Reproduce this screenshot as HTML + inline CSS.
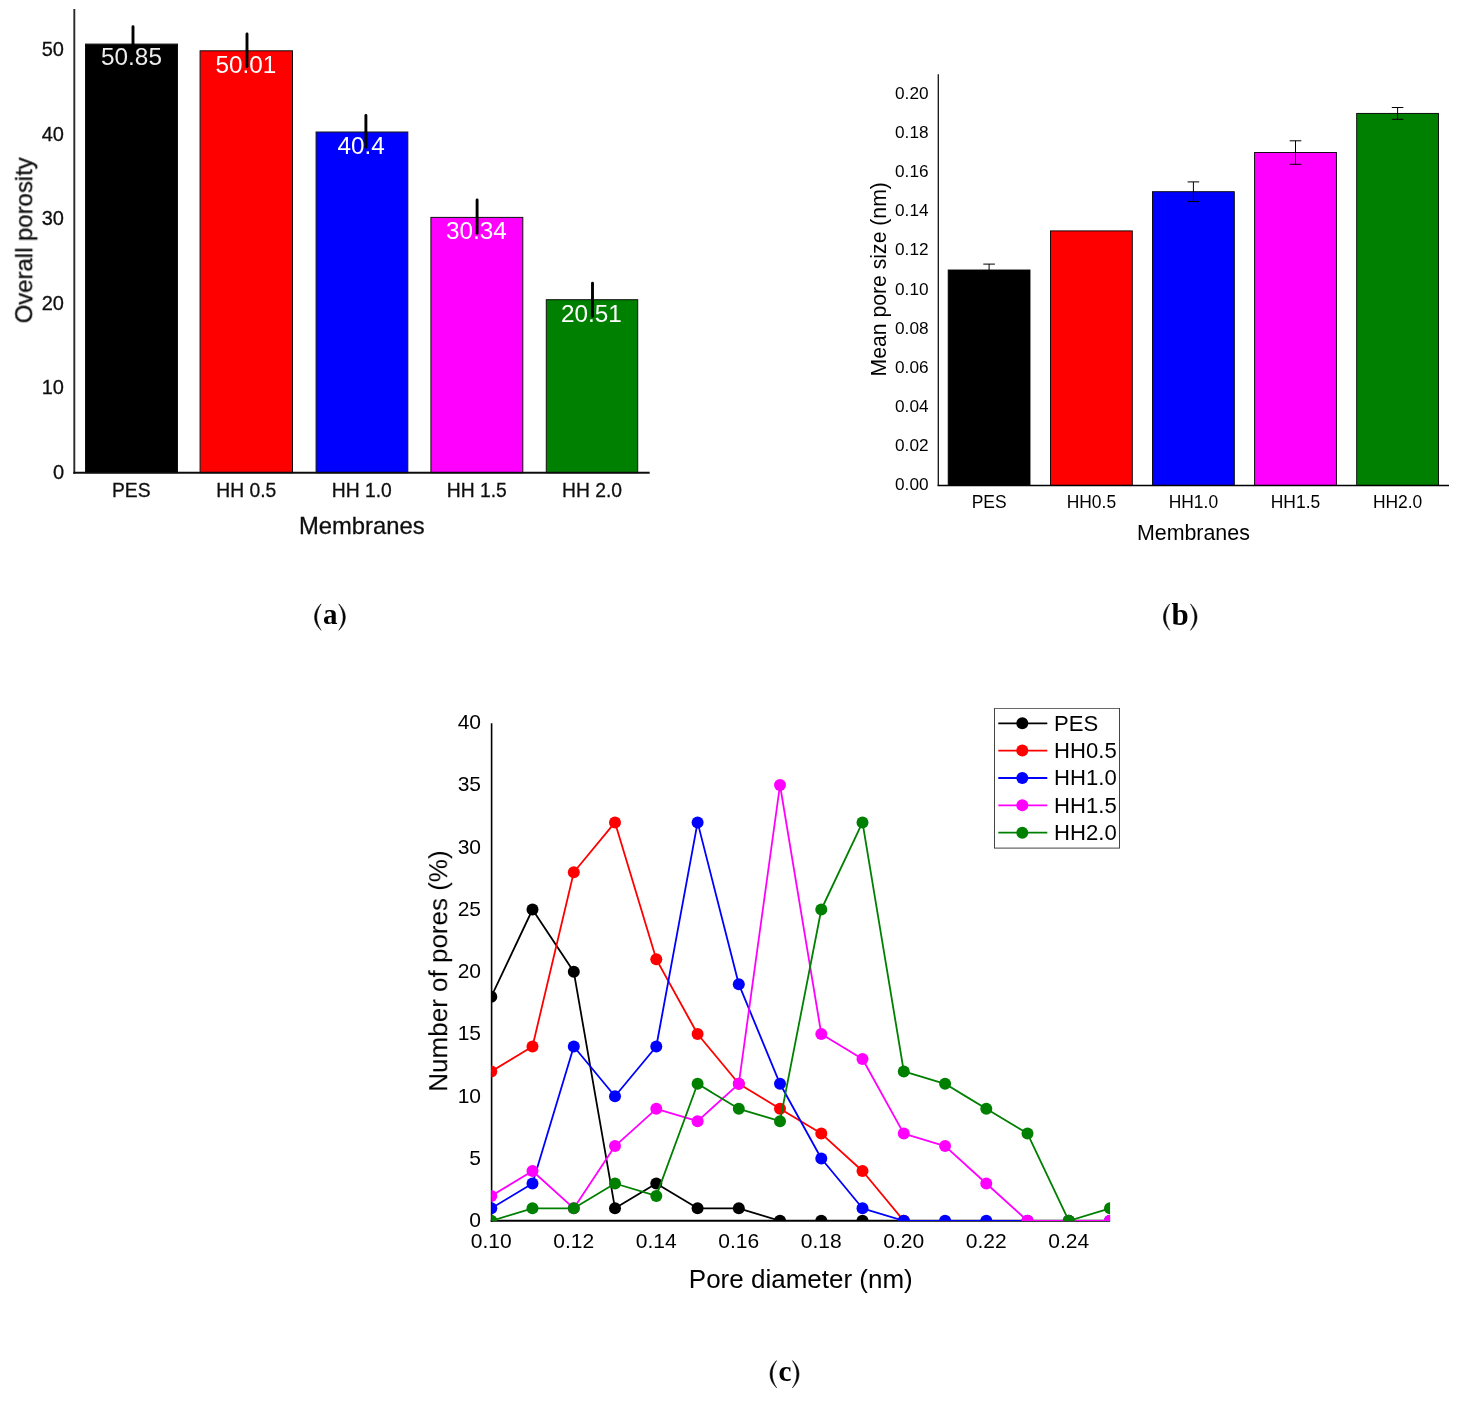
<!DOCTYPE html>
<html><head><meta charset="utf-8"><title>Figure</title>
<style>html,body{margin:0;padding:0;background:#fff;}svg{display:block;}text{font-family:"Liberation Sans", sans-serif;}.serif{font-family:"Liberation Serif", serif;}</style></head><body>
<svg width="1467" height="1401" viewBox="0 0 1467 1401">
<rect x="0" y="0" width="1467" height="1401" fill="#ffffff"/>
<defs><filter id="soft" x="-2%" y="-2%" width="104%" height="104%"><feGaussianBlur stdDeviation="0.65"/></filter></defs>
<g id="panelA" filter="url(#soft)">
<rect x="85.50" y="44.10" width="92.00" height="428.60" fill="#000000" stroke="#111" stroke-width="1.0"/>
<rect x="200.10" y="50.80" width="92.40" height="421.90" fill="#ff0000" stroke="#111" stroke-width="1.0"/>
<rect x="316.10" y="132.00" width="91.70" height="340.70" fill="#0000ff" stroke="#111" stroke-width="1.0"/>
<rect x="430.90" y="217.40" width="91.90" height="255.30" fill="#ff00ff" stroke="#111" stroke-width="1.0"/>
<rect x="546.30" y="299.70" width="91.40" height="173.00" fill="#008000" stroke="#111" stroke-width="1.0"/>
<text x="131.5" y="65.3" font-size="24.3" fill="#ececec" text-anchor="middle">50.85</text>
<text x="245.9" y="72.5" font-size="24.3" fill="#ffffff" text-anchor="middle">50.01</text>
<text x="361.2" y="154.2" font-size="24.3" fill="#ffffff" text-anchor="middle">40.4</text>
<text x="476.4" y="239.0" font-size="24.3" fill="#ffffff" text-anchor="middle">30.34</text>
<text x="591.4" y="321.8" font-size="24.3" fill="#ffffff" text-anchor="middle">20.51</text>
<line x1="133.0" y1="26.8" x2="133.0" y2="58.5" stroke="#000" stroke-width="2.9" stroke-linecap="round"/>
<line x1="247.0" y1="34.0" x2="247.0" y2="66.5" stroke="#000" stroke-width="2.9" stroke-linecap="round"/>
<line x1="365.9" y1="115.5" x2="365.9" y2="147.2" stroke="#000" stroke-width="2.9" stroke-linecap="round"/>
<line x1="477.1" y1="199.9" x2="477.1" y2="233.2" stroke="#000" stroke-width="2.9" stroke-linecap="round"/>
<line x1="592.5" y1="283.1" x2="592.5" y2="316.4" stroke="#000" stroke-width="2.9" stroke-linecap="round"/>
<line x1="74.3" y1="9" x2="74.3" y2="473.7" stroke="#2a2a2a" stroke-width="1.9"/>
<line x1="73.3" y1="472.7" x2="649.7" y2="472.7" stroke="#111" stroke-width="2.1"/>
<text x="64" y="478.8" font-size="20" fill="#111" stroke="#111" stroke-width="0.3" text-anchor="end">0</text>
<text x="64" y="394.3" font-size="20" fill="#111" stroke="#111" stroke-width="0.3" text-anchor="end">10</text>
<text x="64" y="309.8" font-size="20" fill="#111" stroke="#111" stroke-width="0.3" text-anchor="end">20</text>
<text x="64" y="225.3" font-size="20" fill="#111" stroke="#111" stroke-width="0.3" text-anchor="end">30</text>
<text x="64" y="140.8" font-size="20" fill="#111" stroke="#111" stroke-width="0.3" text-anchor="end">40</text>
<text x="64" y="56.3" font-size="20" fill="#111" stroke="#111" stroke-width="0.3" text-anchor="end">50</text>
<text x="131.3" y="496.7" font-size="19.3" fill="#111" stroke="#111" stroke-width="0.3" text-anchor="middle">PES</text>
<text x="246.3" y="496.7" font-size="19.3" fill="#111" stroke="#111" stroke-width="0.3" text-anchor="middle">HH 0.5</text>
<text x="361.8" y="496.7" font-size="19.3" fill="#111" stroke="#111" stroke-width="0.3" text-anchor="middle">HH 1.0</text>
<text x="476.8" y="496.7" font-size="19.3" fill="#111" stroke="#111" stroke-width="0.3" text-anchor="middle">HH 1.5</text>
<text x="592.0" y="496.7" font-size="19.3" fill="#111" stroke="#111" stroke-width="0.3" text-anchor="middle">HH 2.0</text>
<text x="361.8" y="534.1" font-size="23.8" fill="#111" stroke="#111" stroke-width="0.3" text-anchor="middle">Membranes</text>
<text transform="translate(32.2,240.3) rotate(-90)" font-size="23.9" fill="#111" stroke="#111" stroke-width="0.3" text-anchor="middle">Overall porosity</text>
</g>
<defs><filter id="gray" x="0" y="0" width="100%" height="100%" filterUnits="objectBoundingBox"><feOffset dx="0" dy="0"/></filter></defs>
<g id="panelB" filter="url(#gray)">
<rect x="948.2" y="270.0" width="81.8" height="215.4" fill="#000000" stroke="#000" stroke-width="0.9"/>
<path d="M989.1 264.1 V275.9 M983.3 264.1 H994.9 M983.3 275.9 H994.9" stroke="#000" stroke-width="1.0" fill="none"/>
<rect x="1050.5" y="230.9" width="81.8" height="254.5" fill="#ff0000" stroke="#000" stroke-width="0.9"/>
<rect x="1152.5" y="191.7" width="81.8" height="293.7" fill="#0000ff" stroke="#000" stroke-width="0.9"/>
<path d="M1193.4 181.9 V201.5 M1187.6 181.9 H1199.2 M1187.6 201.5 H1199.2" stroke="#000" stroke-width="1.0" fill="none"/>
<rect x="1254.6" y="152.5" width="81.8" height="332.9" fill="#ff00ff" stroke="#000" stroke-width="0.9"/>
<path d="M1295.5 140.8 V164.3 M1289.7 140.8 H1301.3 M1289.7 164.3 H1301.3" stroke="#000" stroke-width="1.0" fill="none"/>
<rect x="1356.7" y="113.4" width="81.8" height="372.0" fill="#008000" stroke="#000" stroke-width="0.9"/>
<path d="M1397.6 107.5 V119.3 M1391.8 107.5 H1403.4 M1391.8 119.3 H1403.4" stroke="#000" stroke-width="1.0" fill="none"/>
<line x1="938.3" y1="74.3" x2="938.3" y2="486.1" stroke="#111" stroke-width="1.3"/>
<line x1="937.6" y1="485.4" x2="1449" y2="485.4" stroke="#000" stroke-width="1.5"/>
<text x="928.5" y="490.4" font-size="17.2" fill="#000" text-anchor="end">0.00</text>
<text x="928.5" y="451.2" font-size="17.2" fill="#000" text-anchor="end">0.02</text>
<text x="928.5" y="412.1" font-size="17.2" fill="#000" text-anchor="end">0.04</text>
<text x="928.5" y="372.9" font-size="17.2" fill="#000" text-anchor="end">0.06</text>
<text x="928.5" y="333.8" font-size="17.2" fill="#000" text-anchor="end">0.08</text>
<text x="928.5" y="294.6" font-size="17.2" fill="#000" text-anchor="end">0.10</text>
<text x="928.5" y="255.4" font-size="17.2" fill="#000" text-anchor="end">0.12</text>
<text x="928.5" y="216.3" font-size="17.2" fill="#000" text-anchor="end">0.14</text>
<text x="928.5" y="177.1" font-size="17.2" fill="#000" text-anchor="end">0.16</text>
<text x="928.5" y="138.0" font-size="17.2" fill="#000" text-anchor="end">0.18</text>
<text x="928.5" y="98.8" font-size="17.2" fill="#000" text-anchor="end">0.20</text>
<text x="989.1" y="508.3" font-size="17.45" fill="#000" text-anchor="middle">PES</text>
<text x="1091.4" y="508.3" font-size="17.45" fill="#000" text-anchor="middle">HH0.5</text>
<text x="1193.4" y="508.3" font-size="17.45" fill="#000" text-anchor="middle">HH1.0</text>
<text x="1295.5" y="508.3" font-size="17.45" fill="#000" text-anchor="middle">HH1.5</text>
<text x="1397.6" y="508.3" font-size="17.45" fill="#000" text-anchor="middle">HH2.0</text>
<text x="1193.4" y="539.7" font-size="21.4" fill="#000" text-anchor="middle">Membranes</text>
<text transform="translate(886.3,279.3) rotate(-90)" font-size="21.2" fill="#000" text-anchor="middle">Mean pore size (nm)</text>
</g>
<g id="panelC" filter="url(#gray)">
<defs><clipPath id="clipC"><rect x="491.3" y="700" width="618.8" height="521.0"/></clipPath></defs>
<line x1="491.6" y1="723.3" x2="491.6" y2="1221.7" stroke="#000" stroke-width="1.6"/>
<line x1="490.7" y1="1220.8" x2="1110.1" y2="1220.8" stroke="#000" stroke-width="1.9"/>
<g clip-path="url(#clipC)">
<polyline points="491.3,996.7 532.5,909.5 573.8,971.8 615.0,1208.3 656.3,1183.5 697.6,1208.3 738.8,1208.3 780.0,1220.8 821.3,1220.8 862.5,1220.8" fill="none" stroke="#000000" stroke-width="1.8" stroke-linejoin="round"/>
<circle cx="491.3" cy="996.7" r="6" fill="#000000"/>
<circle cx="532.5" cy="909.5" r="6" fill="#000000"/>
<circle cx="573.8" cy="971.8" r="6" fill="#000000"/>
<circle cx="615.0" cy="1208.3" r="6" fill="#000000"/>
<circle cx="656.3" cy="1183.5" r="6" fill="#000000"/>
<circle cx="697.6" cy="1208.3" r="6" fill="#000000"/>
<circle cx="738.8" cy="1208.3" r="6" fill="#000000"/>
<circle cx="780.0" cy="1220.8" r="6" fill="#000000"/>
<circle cx="821.3" cy="1220.8" r="6" fill="#000000"/>
<circle cx="862.5" cy="1220.8" r="6" fill="#000000"/>
<polyline points="491.3,1071.4 532.5,1046.5 573.8,872.2 615.0,822.4 656.3,959.3 697.6,1034.0 738.8,1083.8 780.0,1108.8 821.3,1133.6 862.5,1171.0 903.8,1220.8" fill="none" stroke="#ff0000" stroke-width="1.8" stroke-linejoin="round"/>
<circle cx="491.3" cy="1071.4" r="6" fill="#ff0000"/>
<circle cx="532.5" cy="1046.5" r="6" fill="#ff0000"/>
<circle cx="573.8" cy="872.2" r="6" fill="#ff0000"/>
<circle cx="615.0" cy="822.4" r="6" fill="#ff0000"/>
<circle cx="656.3" cy="959.3" r="6" fill="#ff0000"/>
<circle cx="697.6" cy="1034.0" r="6" fill="#ff0000"/>
<circle cx="738.8" cy="1083.8" r="6" fill="#ff0000"/>
<circle cx="780.0" cy="1108.8" r="6" fill="#ff0000"/>
<circle cx="821.3" cy="1133.6" r="6" fill="#ff0000"/>
<circle cx="862.5" cy="1171.0" r="6" fill="#ff0000"/>
<circle cx="903.8" cy="1220.8" r="6" fill="#ff0000"/>
<polyline points="491.3,1208.3 532.5,1183.5 573.8,1046.5 615.0,1096.3 656.3,1046.5 697.6,822.4 738.8,984.2 780.0,1083.8 821.3,1158.5 862.5,1208.3 903.8,1220.8 945.1,1220.8 986.3,1220.8 1027.5,1220.8 1068.8,1220.8 1110.0,1220.8" fill="none" stroke="#0000ff" stroke-width="1.8" stroke-linejoin="round"/>
<circle cx="491.3" cy="1208.3" r="6" fill="#0000ff"/>
<circle cx="532.5" cy="1183.5" r="6" fill="#0000ff"/>
<circle cx="573.8" cy="1046.5" r="6" fill="#0000ff"/>
<circle cx="615.0" cy="1096.3" r="6" fill="#0000ff"/>
<circle cx="656.3" cy="1046.5" r="6" fill="#0000ff"/>
<circle cx="697.6" cy="822.4" r="6" fill="#0000ff"/>
<circle cx="738.8" cy="984.2" r="6" fill="#0000ff"/>
<circle cx="780.0" cy="1083.8" r="6" fill="#0000ff"/>
<circle cx="821.3" cy="1158.5" r="6" fill="#0000ff"/>
<circle cx="862.5" cy="1208.3" r="6" fill="#0000ff"/>
<circle cx="903.8" cy="1220.8" r="6" fill="#0000ff"/>
<circle cx="945.1" cy="1220.8" r="6" fill="#0000ff"/>
<circle cx="986.3" cy="1220.8" r="6" fill="#0000ff"/>
<circle cx="1027.5" cy="1220.8" r="6" fill="#0000ff"/>
<circle cx="1068.8" cy="1220.8" r="6" fill="#0000ff"/>
<circle cx="1110.0" cy="1220.8" r="6" fill="#0000ff"/>
<polyline points="491.3,1195.9 532.5,1171.0 573.8,1208.3 615.0,1146.1 656.3,1108.8 697.6,1121.2 738.8,1083.8 780.0,785.0 821.3,1034.0 862.5,1059.0 903.8,1133.6 945.1,1146.1 986.3,1183.5 1027.5,1220.8 1068.8,1220.8 1110.0,1220.8" fill="none" stroke="#ff00ff" stroke-width="1.8" stroke-linejoin="round"/>
<circle cx="491.3" cy="1195.9" r="6" fill="#ff00ff"/>
<circle cx="532.5" cy="1171.0" r="6" fill="#ff00ff"/>
<circle cx="573.8" cy="1208.3" r="6" fill="#ff00ff"/>
<circle cx="615.0" cy="1146.1" r="6" fill="#ff00ff"/>
<circle cx="656.3" cy="1108.8" r="6" fill="#ff00ff"/>
<circle cx="697.6" cy="1121.2" r="6" fill="#ff00ff"/>
<circle cx="738.8" cy="1083.8" r="6" fill="#ff00ff"/>
<circle cx="780.0" cy="785.0" r="6" fill="#ff00ff"/>
<circle cx="821.3" cy="1034.0" r="6" fill="#ff00ff"/>
<circle cx="862.5" cy="1059.0" r="6" fill="#ff00ff"/>
<circle cx="903.8" cy="1133.6" r="6" fill="#ff00ff"/>
<circle cx="945.1" cy="1146.1" r="6" fill="#ff00ff"/>
<circle cx="986.3" cy="1183.5" r="6" fill="#ff00ff"/>
<circle cx="1027.5" cy="1220.8" r="6" fill="#ff00ff"/>
<circle cx="1068.8" cy="1220.8" r="6" fill="#ff00ff"/>
<circle cx="1110.0" cy="1220.8" r="6" fill="#ff00ff"/>
<polyline points="491.3,1220.8 532.5,1208.3 573.8,1208.3 615.0,1183.5 656.3,1195.9 697.6,1083.8 738.8,1108.8 780.0,1121.2 821.3,909.5 862.5,822.4 903.8,1071.4 945.1,1083.8 986.3,1108.8 1027.5,1133.6 1068.8,1220.8 1110.0,1208.3" fill="none" stroke="#008000" stroke-width="1.8" stroke-linejoin="round"/>
<circle cx="491.3" cy="1220.8" r="6" fill="#008000"/>
<circle cx="532.5" cy="1208.3" r="6" fill="#008000"/>
<circle cx="573.8" cy="1208.3" r="6" fill="#008000"/>
<circle cx="615.0" cy="1183.5" r="6" fill="#008000"/>
<circle cx="656.3" cy="1195.9" r="6" fill="#008000"/>
<circle cx="697.6" cy="1083.8" r="6" fill="#008000"/>
<circle cx="738.8" cy="1108.8" r="6" fill="#008000"/>
<circle cx="780.0" cy="1121.2" r="6" fill="#008000"/>
<circle cx="821.3" cy="909.5" r="6" fill="#008000"/>
<circle cx="862.5" cy="822.4" r="6" fill="#008000"/>
<circle cx="903.8" cy="1071.4" r="6" fill="#008000"/>
<circle cx="945.1" cy="1083.8" r="6" fill="#008000"/>
<circle cx="986.3" cy="1108.8" r="6" fill="#008000"/>
<circle cx="1027.5" cy="1133.6" r="6" fill="#008000"/>
<circle cx="1068.8" cy="1220.8" r="6" fill="#008000"/>
<circle cx="1110.0" cy="1208.3" r="6" fill="#008000"/>
</g>
<text x="481" y="1227.1" font-size="21" fill="#000" text-anchor="end">0</text>
<text x="481" y="1164.8" font-size="21" fill="#000" text-anchor="end">5</text>
<text x="481" y="1102.6" font-size="21" fill="#000" text-anchor="end">10</text>
<text x="481" y="1040.3" font-size="21" fill="#000" text-anchor="end">15</text>
<text x="481" y="978.1" font-size="21" fill="#000" text-anchor="end">20</text>
<text x="481" y="915.8" font-size="21" fill="#000" text-anchor="end">25</text>
<text x="481" y="853.6" font-size="21" fill="#000" text-anchor="end">30</text>
<text x="481" y="791.3" font-size="21" fill="#000" text-anchor="end">35</text>
<text x="481" y="729.1" font-size="21" fill="#000" text-anchor="end">40</text>
<text x="491.3" y="1247.9" font-size="21" fill="#000" text-anchor="middle">0.10</text>
<text x="573.8" y="1247.9" font-size="21" fill="#000" text-anchor="middle">0.12</text>
<text x="656.3" y="1247.9" font-size="21" fill="#000" text-anchor="middle">0.14</text>
<text x="738.8" y="1247.9" font-size="21" fill="#000" text-anchor="middle">0.16</text>
<text x="821.3" y="1247.9" font-size="21" fill="#000" text-anchor="middle">0.18</text>
<text x="903.8" y="1247.9" font-size="21" fill="#000" text-anchor="middle">0.20</text>
<text x="986.3" y="1247.9" font-size="21" fill="#000" text-anchor="middle">0.22</text>
<text x="1068.8" y="1247.9" font-size="21" fill="#000" text-anchor="middle">0.24</text>
<text x="800.8" y="1288" font-size="26" fill="#000" text-anchor="middle">Pore diameter (nm)</text>
<text transform="translate(447.2,971) rotate(-90)" font-size="26" fill="#000" text-anchor="middle">Number of pores (%)</text>
<rect x="994.5" y="708.3" width="125" height="139.8" fill="#fff" stroke="#444" stroke-width="1"/>
<line x1="998.3" y1="723.3" x2="1047.3" y2="723.3" stroke="#000000" stroke-width="1.8"/>
<circle cx="1022.3" cy="723.3" r="6" fill="#000000"/>
<text x="1054.1" y="730.6" font-size="22.1" fill="#000">PES</text>
<line x1="998.3" y1="750.6" x2="1047.3" y2="750.6" stroke="#ff0000" stroke-width="1.8"/>
<circle cx="1022.3" cy="750.6" r="6" fill="#ff0000"/>
<text x="1054.1" y="757.9" font-size="22.1" fill="#000">HH0.5</text>
<line x1="998.3" y1="778.0" x2="1047.3" y2="778.0" stroke="#0000ff" stroke-width="1.8"/>
<circle cx="1022.3" cy="778.0" r="6" fill="#0000ff"/>
<text x="1054.1" y="785.3" font-size="22.1" fill="#000">HH1.0</text>
<line x1="998.3" y1="805.3" x2="1047.3" y2="805.3" stroke="#ff00ff" stroke-width="1.8"/>
<circle cx="1022.3" cy="805.3" r="6" fill="#ff00ff"/>
<text x="1054.1" y="812.6" font-size="22.1" fill="#000">HH1.5</text>
<line x1="998.3" y1="832.7" x2="1047.3" y2="832.7" stroke="#008000" stroke-width="1.8"/>
<circle cx="1022.3" cy="832.7" r="6" fill="#008000"/>
<text x="1054.1" y="840.0" font-size="22.1" fill="#000">HH2.0</text>
</g>
<g id="captions" filter="url(#gray)">
<path d="M321.12 603.88 C312.39 611.98 312.39 622.23 321.12 630.33 C315.26 622.23 315.26 611.98 321.12 603.88 Z" fill="#000" stroke="#000" stroke-width="0.55" stroke-linejoin="round"/>
<path d="M338.77 603.88 C347.51 611.98 347.51 622.23 338.77 630.33 C344.64 622.23 344.64 611.98 338.77 603.88 Z" fill="#000" stroke="#000" stroke-width="0.55" stroke-linejoin="round"/>
<text class="serif" x="330.2" y="624.3" font-size="29.0" font-weight="bold" fill="#000" text-anchor="middle">a</text>
<path d="M1169.72 603.88 C1161.39 611.98 1161.39 622.23 1169.72 630.33 C1164.26 622.23 1164.26 611.98 1169.72 603.88 Z" fill="#000" stroke="#000" stroke-width="0.55" stroke-linejoin="round"/>
<path d="M1190.48 603.88 C1199.21 611.98 1199.21 622.23 1190.48 630.33 C1196.34 622.23 1196.34 611.98 1190.48 603.88 Z" fill="#000" stroke="#000" stroke-width="0.55" stroke-linejoin="round"/>
<text class="serif" x="1180.1" y="624.6" font-size="31.0" font-weight="bold" fill="#000" text-anchor="middle">b</text>
<path d="M776.62 1360.58 C767.89 1368.91 767.89 1379.48 776.62 1387.82 C770.76 1379.48 770.76 1368.91 776.62 1360.58 Z" fill="#000" stroke="#000" stroke-width="0.55" stroke-linejoin="round"/>
<path d="M792.48 1360.58 C801.21 1368.91 801.21 1379.48 792.48 1387.82 C798.34 1379.48 798.34 1368.91 792.48 1360.58 Z" fill="#000" stroke="#000" stroke-width="0.55" stroke-linejoin="round"/>
<text class="serif" x="784.9" y="1381.4" font-size="29.2" font-weight="bold" fill="#000" text-anchor="middle">c</text>
</g>
</svg></body></html>
